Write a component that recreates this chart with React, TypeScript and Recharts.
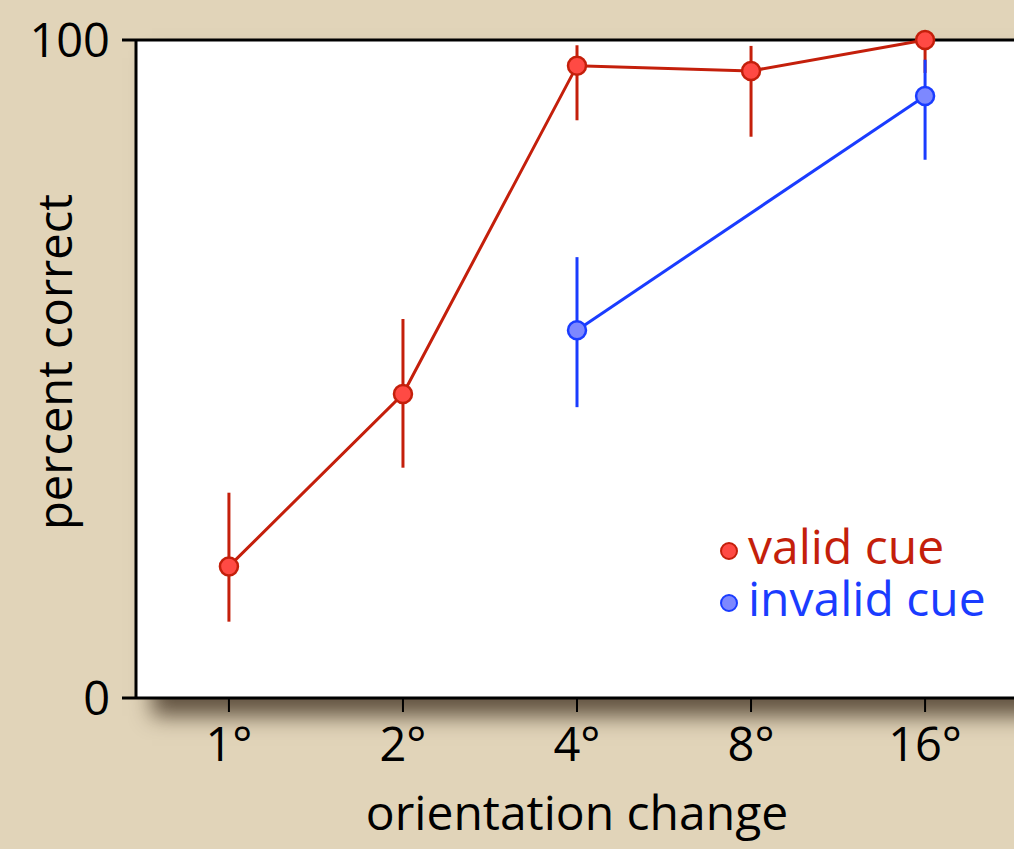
import { ComposedChart, Line, XAxis, YAxis, ErrorBar, ReferenceLine } from "recharts";

const orientations = ["1°", "2°", "4°", "8°", "16°"];
const validMean = [20, 46.2, 96.1, 95.3, 100];
const validLow = [11.6, 35, 87.8, 85.3, 95];
const validHigh = [31.2, 57.6, 99.2, 99.1, 100];
const invalidMean = [null, null, 55.9, null, 91.5];
const invalidLow = [null, null, 44.2, null, 81.8];
const invalidHigh = [null, null, 67, null, 97];

const RED = "#c41f0b";
const RED_FILL = "#ff4a44";
const BLUE = "#1a3cff";
const BLUE_FILL = "#7d88ff";
const FONT = "'Open Sans', 'Noto Sans', sans-serif";

const data = orientations.map((label, i) => {
  const iv = invalidMean[i];
  return {
    x: i,
    label,
    valid: validMean[i],
    validErr: [validMean[i] - validLow[i], validHigh[i] - validMean[i]],
    invalid: iv,
    invalidErr: iv == null ? null : [iv - (invalidLow[i] as number), (invalidHigh[i] as number) - iv],
  };
});

const legendRows = [
  { name: "valid cue", stroke: RED, fill: RED_FILL },
  { name: "invalid cue", stroke: BLUE, fill: BLUE_FILL },
];

function LegendBox() {
  return (
    <div style={{ position: "absolute", left: 717, top: 520, fontFamily: FONT, fontSize: 48, lineHeight: "52px" }}>
      {legendRows.map((r) => (
        <div key={r.name} style={{ display: "flex", alignItems: "center", height: 52, color: r.stroke, whiteSpace: "nowrap" }}>
          <svg width={24} height={24} style={{ marginRight: 7, marginTop: 10 }}>
            <circle cx={12} cy={12} r={8} fill={r.fill} stroke={r.stroke} strokeWidth={2} />
          </svg>
          <span>{r.name}</span>
        </div>
      ))}
    </div>
  );
}

function YTitle() {
  return (
    <text x={0} y={0} transform="translate(54 362) rotate(-90)" textAnchor="middle" dominantBaseline="central"
      fill="#000" fontSize={47} fontFamily={FONT}>
      percent correct
    </text>
  );
}

function XTitle() {
  return (
    <text x={577} y={830} textAnchor="middle" fill="#000" fontSize={48} fontFamily={FONT}>
      orientation change
    </text>
  );
}

export default function App() {
  return (
    <div style={{ position: "fixed", left: 0, top: 0, width: 1014, height: 849, background: "#e1d4b9", overflow: "hidden" }}>
      <div
        style={{
          position: "absolute", left: 136, top: 40, width: 940, height: 658,
          background: "#fff", boxShadow: "16px 18px 20px rgba(45,30,15,0.7)",
        }}
      />
      <div style={{ position: "absolute", left: 0, top: 0 }}>
        <ComposedChart width={1014} height={849} data={data} margin={{ top: 40, right: 0, bottom: 0, left: 0 }}>
          <XAxis
            dataKey="x"
            type="number"
            domain={[-0.534, 4.511]}
            ticks={[0, 1, 2, 3, 4]}
            tickFormatter={(v: number) => orientations[v]}
            height={151}
            axisLine={{ stroke: "#000", strokeWidth: 3 }}
            tickLine={{ stroke: "#000", strokeWidth: 2 }}
            tickSize={14}
            tick={{ fill: "#000", fontSize: 47, fontFamily: FONT, dy: 14 }}
            label={<XTitle />}
          />
          <YAxis
            type="number"
            domain={[0, 100]}
            ticks={[0, 100]}
            width={136}
            axisLine={{ stroke: "#000", strokeWidth: 3 }}
            tickLine={{ stroke: "#000", strokeWidth: 3 }}
            tickSize={14}
            tick={{ fill: "#000", fontSize: 47, fontFamily: FONT, dx: -10 }}
            label={<YTitle />}
          />
          <ReferenceLine y={100} stroke="#000" strokeWidth={3} />
          <Line
            dataKey="valid"
            stroke={RED}
            strokeWidth={3}
            dot={{ r: 9, fill: RED_FILL, stroke: RED, strokeWidth: 2.5 }}
            isAnimationActive={false}
          >
            <ErrorBar dataKey="validErr" direction="y" width={0} stroke={RED} strokeWidth={3} />
          </Line>
          <Line
            dataKey="invalid"
            stroke={BLUE}
            strokeWidth={3}
            connectNulls
            dot={{ r: 9, fill: BLUE_FILL, stroke: BLUE, strokeWidth: 2.5 }}
            isAnimationActive={false}
          >
            <ErrorBar dataKey="invalidErr" direction="y" width={0} stroke={BLUE} strokeWidth={3} />
          </Line>
        </ComposedChart>
      </div>
      <LegendBox />
    </div>
  );
}
